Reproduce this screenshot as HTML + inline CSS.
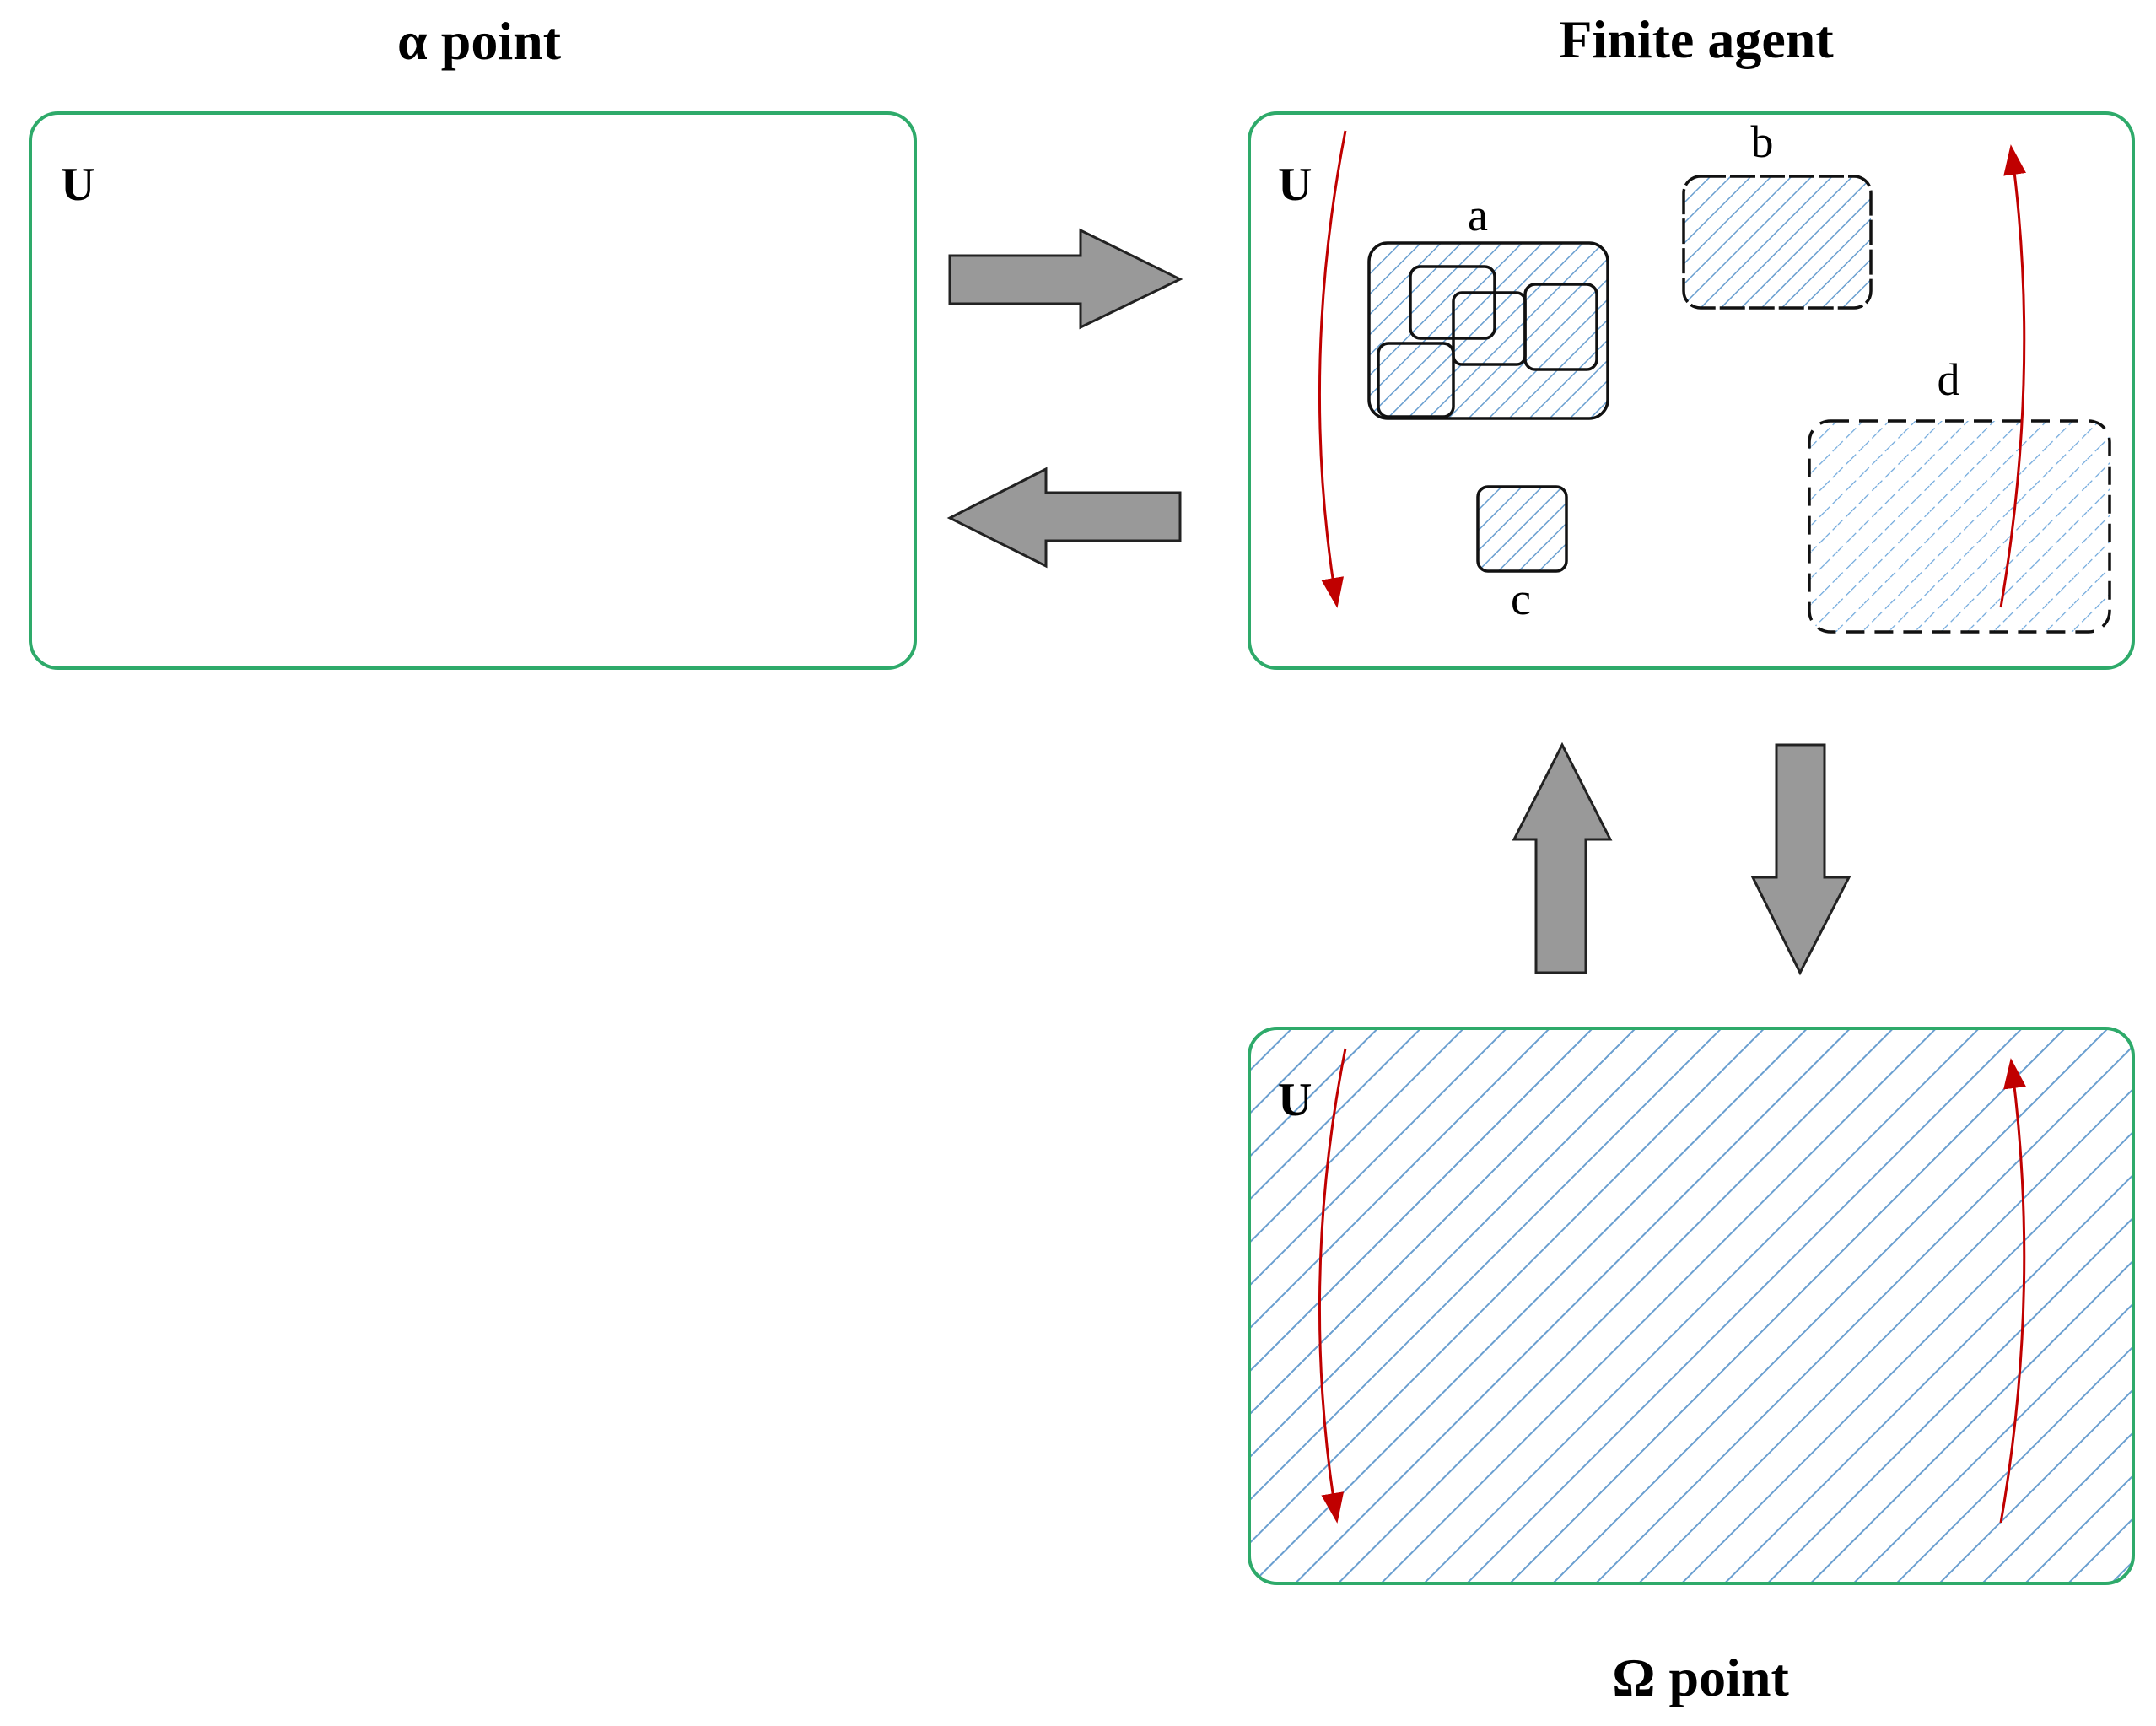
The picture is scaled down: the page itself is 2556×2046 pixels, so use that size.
<!DOCTYPE html>
<html><head><meta charset="utf-8"><style>html,body{margin:0;padding:0;background:#fff}svg{display:block}</style></head>
<body>
<svg width="2556" height="2046" viewBox="0 0 2556 2046" xmlns="http://www.w3.org/2000/svg">
<defs>
<pattern id="hBig" width="36" height="36" patternUnits="userSpaceOnUse" patternTransform="rotate(45)">
<line x1="0" y1="0" x2="0" y2="36" stroke="#6a9fd0" stroke-width="4"/></pattern>
<pattern id="hSm" width="17" height="17" patternUnits="userSpaceOnUse" patternTransform="rotate(45)">
<line x1="0" y1="0" x2="0" y2="17" stroke="#6a9fd0" stroke-width="3"/></pattern>
<pattern id="hD" width="22" height="22" patternUnits="userSpaceOnUse" patternTransform="rotate(45)">
<line x1="0" y1="0" x2="0" y2="22" stroke="#6fa8dc" stroke-width="2.5" stroke-dasharray="8,5"/></pattern>
<marker id="rh" markerWidth="12" markerHeight="9" refX="9" refY="4.5" orient="auto" markerUnits="strokeWidth">
<path d="M0,0 L12,4.5 L0,9 Z" fill="#c00000"/></marker>
</defs>
<g font-family="Liberation Serif, serif" font-weight="bold" text-anchor="middle" fill="#000">
<text x="568" y="70" font-size="64">α  point</text>
<text x="2011" y="68" font-size="64">Finite agent</text>
<text x="2016" y="2010" font-size="64">Ω  point</text>
</g>
<rect x="36" y="134" width="1049" height="658" rx="33" fill="#fff" stroke="#2eaa6a" stroke-width="4"/>
<rect x="1481" y="134" width="1048" height="658" rx="33" fill="#fff" stroke="#2eaa6a" stroke-width="4"/>
<rect x="1481" y="1219" width="1048" height="658" rx="33" fill="url(#hBig)" stroke="#2eaa6a" stroke-width="4"/>
<g font-family="Liberation Serif, serif" font-weight="bold" font-size="56">
<text x="72" y="237">U</text><text x="1515" y="237">U</text><text x="1515" y="1322">U</text>
</g>
<g fill="#999" stroke="#222" stroke-width="3">
<path d="M1126,303 L1281,303 L1281,273 L1399,331 L1281,388 L1281,360 L1126,360 Z"/>
<path d="M1399,584 L1240,584 L1240,556 L1126,614 L1240,671 L1240,641 L1399,641 Z"/>
<path d="M1821,1153 L1821,995 L1795,995 L1852,883 L1909,995 L1880,995 L1880,1153 Z"/>
<path d="M2106,883 L2163,883 L2163,1040 L2192,1040 L2134,1153 L2078,1040 L2106,1040 Z"/>
</g>
<rect x="1623" y="288" width="283" height="208" rx="22" fill="url(#hSm)" stroke="#111" stroke-width="3.5"/>
<g fill="none" stroke="#111" stroke-width="3.5">
<rect x="1672" y="316" width="100" height="85" rx="12"/>
<rect x="1723" y="347" width="85" height="85" rx="10"/>
<rect x="1808" y="337" width="85" height="101" rx="12"/>
<rect x="1634" y="407" width="89" height="87" rx="12"/>
</g>
<rect x="1996" y="209" width="222" height="156" rx="20" fill="url(#hSm)" stroke="#111" stroke-width="3.5" stroke-dasharray="30,5"/>
<rect x="1752" y="577" width="105" height="100" rx="12" fill="url(#hSm)" stroke="#111" stroke-width="3.5"/>
<rect x="2145" y="499" width="356" height="250" rx="25" fill="url(#hD)" stroke="#111" stroke-width="3.5" stroke-dasharray="22,12"/>
<g font-family="Liberation Serif, serif" font-size="54" text-anchor="middle">
<text x="1752" y="273">a</text><text x="2089" y="186">b</text><text x="1803" y="728">c</text><text x="2310" y="468">d</text>
</g>
<g fill="none" stroke="#c00000" stroke-width="3">
<path d="M1595,155 Q1540,440 1584,712" marker-end="url(#rh)"/>
<path d="M2372,720 Q2420,440 2385,180" marker-end="url(#rh)"/>
<path d="M1595,1243 Q1540,1520 1584,1797" marker-end="url(#rh)"/>
<path d="M2372,1805 Q2420,1530 2385,1263" marker-end="url(#rh)"/>
</g>
</svg>
</body></html>
